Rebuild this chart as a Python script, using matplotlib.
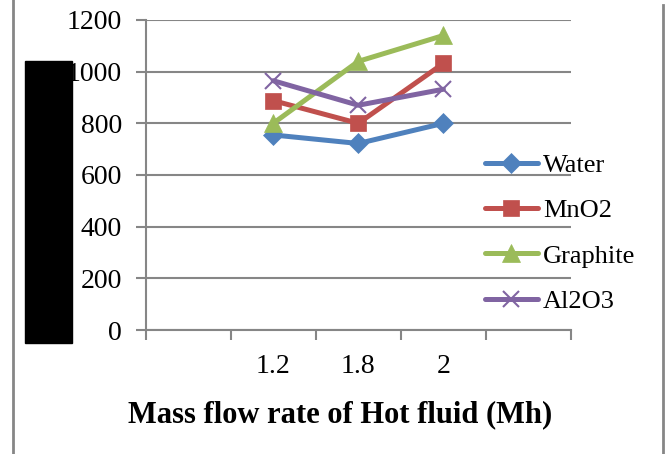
import matplotlib
matplotlib.use("Agg")
import matplotlib.pyplot as plt
from matplotlib.patches import Rectangle
from matplotlib.lines import Line2D
import numpy as np

# Data
categories = ['1.2', '1.8', '2']
water = [755, 722, 800]
mno2 = [888, 800, 1032]
graphite = [800, 1040, 1140]
al2o3 = [965, 870, 932]
series_names = ['Water', 'MnO2', 'Graphite', 'Al2O3']
y_ticks = [0, 200, 400, 600, 800, 1000, 1200]

colors = ['#4F81BD', '#C0504D', '#9BBB59', '#8064A2']
markers = ['D', 's', '^', 'x']
msizes = [10.5, 11, 12.5, 12]

W, H = 667, 454
fig = plt.figure(figsize=(W / 100, H / 100), dpi=100)
ax = fig.add_axes([145.6 / W, 1 - 330 / H, (571 - 145.6) / W, (330 - 20) / H])

serif = 'Liberation Serif'
grid_c = '#868686'

xpos = np.arange(len(categories)) + 1
for vals, name, c, m, ms in zip([water, mno2, graphite, al2o3], series_names, colors, markers, msizes):
    ax.plot(xpos, vals, color=c, lw=3.6, marker=m, markersize=ms,
            markeredgewidth=1.5 if m == 'x' else 0.5, markeredgecolor=c, markerfacecolor=c,
            label=name, solid_capstyle='round', zorder=3)

ax.set_xlim(-0.5, 4.5)
ax.set_ylim(0, 1200)
ax.set_yticks(y_ticks)
ax.set_yticklabels([str(v) for v in y_ticks], fontfamily=serif, fontsize=20)
ax.yaxis.grid(True, color=grid_c, lw=1.5)
ax.set_axisbelow(True)

ax.set_xticks(np.arange(-0.5, 5, 1.0))
ax.set_xticklabels([])
ax.set_xticks(xpos, minor=True)
ax.set_xticklabels(categories, minor=True, fontfamily=serif, fontsize=20)
ax.tick_params(axis='x', which='minor', length=0, pad=17)
ax.tick_params(axis='x', which='major', length=7, width=1.5, color=grid_c)
ax.tick_params(axis='y', length=7, width=1.5, color=grid_c, pad=10)

for s in ['top', 'right']:
    ax.spines[s].set_visible(False)
for s in ['left', 'bottom']:
    ax.spines[s].set_color(grid_c)
    ax.spines[s].set_linewidth(1.5)

leg = ax.legend(loc='center left', bbox_to_anchor=(0.798, 0.312), frameon=False,
                prop={'family': serif, 'size': 19}, handlelength=2.0,
                handletextpad=0.2, labelspacing=0.83, borderaxespad=0, borderpad=0)

fig.text(340 / W, 1 - 415 / H, 'Mass flow rate of Hot fluid (Mh)', ha='center', va='center',
         fontfamily=serif, fontweight='bold', fontsize=22)

# redaction block and frame lines
fig.add_artist(Rectangle((25 / W, 1 - 343 / H), 47 / W, 282 / H, color='black', transform=fig.transFigure))
fig.add_artist(Line2D([13 / W, 13 / W], [0, 1], color=grid_c, lw=2, transform=fig.transFigure))
fig.add_artist(Line2D([663 / W, 663 / W], [0, 1 - 5 / H], color=grid_c, lw=2, transform=fig.transFigure))

fig.savefig('out.png', dpi=100)
